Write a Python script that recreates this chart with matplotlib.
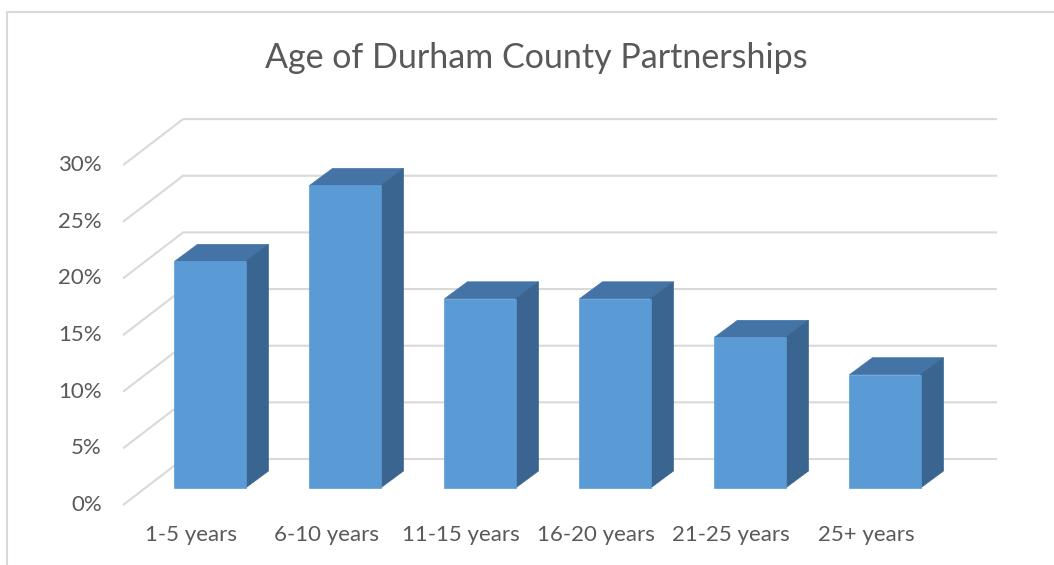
import matplotlib.pyplot as plt
from matplotlib.patches import Polygon
from matplotlib.lines import Line2D

categories = ['1-5 years', '6-10 years', '11-15 years', '16-20 years', '21-25 years', '25+ years']
values = [20.0, 26.7, 16.7, 16.7, 13.3, 10.0]
ticks = [0, 5, 10, 15, 20, 25, 30]
tick_labels = ['0%', '5%', '10%', '15%', '20%', '25%', '30%']

plt.rcParams['font.family'] = ['Lato', 'DejaVu Sans']

fig = plt.figure(figsize=(10.54, 5.65), dpi=100)
ax = fig.add_axes([0, 0, 1, 1])
# data units: x in categories (135 px each), y in percent (11.33 px each)
ax.set_xlim((0 - 210) / 135, (1054 - 210) / 135)
ax.set_ylim((505 - 565) / 11.33, 505 / 11.33)
ax.axis('off')

text_col = '#595959'
grid_col = '#d9d9d9'

# 3d-ish offsets
wall_x0 = -0.644   # front edge of the gridlines
wall_dx = 0.445    # depth of the floor/back wall
wall_dy = 4.06
wall_x1 = 5.83     # right end of back gridlines

for t, lab in zip(ticks, tick_labels):
    ax.plot([wall_x0, wall_x0 + wall_dx, wall_x1], [t, t + wall_dy, t + wall_dy],
            color=grid_col, lw=1.5, zorder=1, solid_capstyle='butt')
    ax.text(-0.80, t, lab, ha='right', va='center', fontsize=16, color=text_col)

bar_w = 0.526
bar_base = 1.5
bar_dx = 0.17
bar_dy = 1.5
front_col = '#5b9bd5'
top_col = '#4473a6'
side_col = '#3a6590'

for i, v in enumerate(values):
    x0 = i - bar_w / 2
    x1 = i + bar_w / 2
    y0 = bar_base
    y1 = bar_base + v
    top = Polygon([(x0, y1), (x1, y1), (x1 + bar_dx, y1 + bar_dy), (x0 + bar_dx, y1 + bar_dy)],
                  closed=True, facecolor=top_col, edgecolor=top_col, lw=0.5, zorder=3)
    side = Polygon([(x1, y0), (x1 + bar_dx, y0 + bar_dy), (x1 + bar_dx, y1 + bar_dy), (x1, y1)],
                   closed=True, facecolor=side_col, edgecolor=side_col, lw=0.5, zorder=3)
    front = Polygon([(x0, y0), (x1, y0), (x1, y1), (x0, y1)],
                    closed=True, facecolor=front_col, edgecolor=front_col, lw=0.5, zorder=4)
    ax.add_patch(top)
    ax.add_patch(side)
    ax.add_patch(front)
    ax.text(i - 0.14, -2.65, categories[i], ha='center', va='center', fontsize=16, color=text_col)

fig.text(536 / 1054, 1 - 58 / 565, 'Age of Durham County Partnerships', ha='center', va='center',
         fontsize=24.5, color=text_col)

# chart border (only top and left are inside the crop)
fig.add_artist(Line2D([7 / 1054, 7 / 1054, 1.0], [0.0, 1 - 12 / 565, 1 - 12 / 565],
                      transform=fig.transFigure, color='#d9d9d9', lw=1.5))

fig.savefig('out.png', dpi=100)
